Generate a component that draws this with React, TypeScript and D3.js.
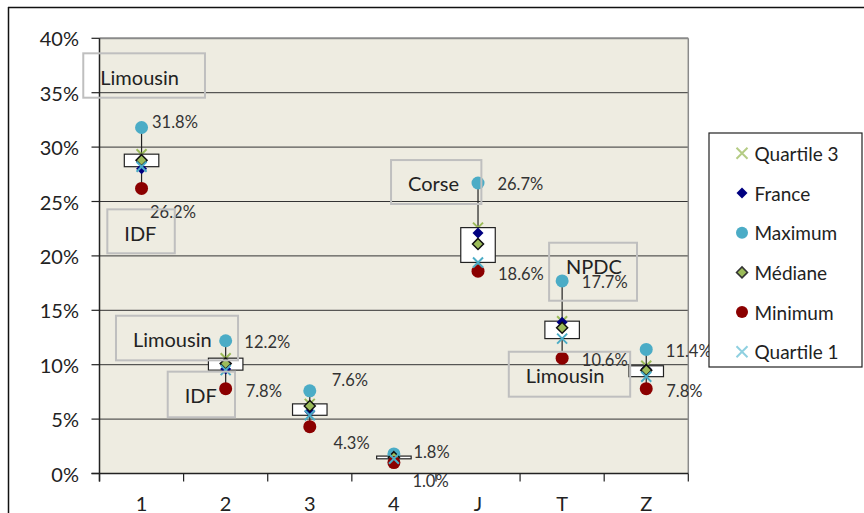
import React from "react";
import * as d3 from "d3";

const categories = ["1", "2", "3", "4", "J", "T", "Z"];
const quartile3 = [29.35, 10.6, 6.4, 1.6, 22.6, 14.0, 9.9];
const france = [28.0, 9.6, 5.7, 1.4, 22.1, 13.9, 9.6];
const maximum = [31.8, 12.2, 7.6, 1.8, 26.7, 17.7, 11.4];
const mediane = [28.8, 10.1, 6.2, 1.5, 21.1, 13.4, 9.5];
const minimum = [26.2, 7.8, 4.3, 1.0, 18.6, 10.6, 7.8];
const quartile1 = [28.2, 9.5, 5.35, 1.35, 19.4, 12.4, 8.9];
const yTicks = [0, 5, 10, 15, 20, 25, 30, 35, 40];
const legendLabels = ["Quartile 3", "France", "Maximum", "Médiane", "Minimum", "Quartile 1"];

// label nudges (px) for the max / min value labels
const maxLabelDx = [10.5, 18.7, 22, 19.5, 19.4, 19.7, 19.6];
const maxLabelDy = [-6, 1, -11, -2, 1, 1, 2];
const minLabelDx = [8.5, 20, 23.6, 18.5, 20, 19.7, 20];
const minLabelDy = [24, 2, 16, 18, 3, 2, 2];

// region text boxes: x in category-band units, y in percent
const noteLabels = ["Limousin", "IDF", "Limousin", "IDF", "Corse", "NPDC", "Limousin"];
const noteX0 = [-0.193, 0.093, 0.196, 0.811, 3.466, 5.345, 4.866];
const noteX1 = [1.254, 0.895, 1.647, 1.611, 4.54, 6.39, 6.309];
const noteYTop = [38.62, 24.28, 14.5, 9.36, 28.81, 21.21, 11.19];
const noteYBot = [34.54, 20.24, 10.4, 5.17, 24.77, 15.88, 7.06];

const W = 864;
const H = 513;
const FONT = "Lato, 'Open Sans', sans-serif";

const C_Q3 = "#9BBB59";
const C_FR = "#000080";
const C_MAX = "#4BACC6";
const C_MED = "#9BBB59";
const C_MIN = "#8B0000";
const C_Q1 = "#4BACC6";

function XMark({ x, y, color, s = 5 }: { x: number; y: number; color: string; s?: number }) {
  return (
    <path
      d={`M${x - s},${y - s}L${x + s},${y + s}M${x - s},${y + s}L${x + s},${y - s}`}
      stroke={color}
      strokeWidth={2}
      fill="none"
    />
  );
}

function Diamond({ x, y, fill, stroke, s = 5.5 }: { x: number; y: number; fill: string; stroke?: string; s?: number }) {
  return (
    <path
      d={`M${x},${y - s}L${x + s},${y}L${x},${y + s}L${x - s},${y}Z`}
      fill={fill}
      stroke={stroke || "none"}
      strokeWidth={stroke ? 1.5 : 0}
    />
  );
}

export default function App() {
  const left = 99.5;
  const right = 688.3;
  const top = 38.3;
  const bottom = 473.5;

  const x = d3.scaleBand<string>().domain(categories).range([left, right]).paddingInner(0).paddingOuter(0);
  const xu = d3.scaleLinear().domain([0, categories.length]).range([left, right]);
  const y = d3.scaleLinear().domain([0, 40]).range([bottom, top]);
  const cx = (i: number) => (x(categories[i]) as number) + x.bandwidth() / 2;
  const fmt = (v: number) => d3.format(".1f")(v) + "%";
  const boxW = 34.5;

  const boundaries = d3.range(categories.length + 1).map((k) => xu(k));

  const legendX = 709;
  const legendY = 133;
  const legendItemY = (k: number) => 153.3 + k * 39.7;

  const renderLegendMarker = (k: number, mx: number, my: number) => {
    switch (k) {
      case 0:
        return <XMark x={mx} y={my} color="#B5CC85" s={5.5} />;
      case 1:
        return <Diamond x={mx} y={my} fill={C_FR} s={5.5} />;
      case 2:
        return <circle cx={mx} cy={my} r={6} fill={C_MAX} />;
      case 3:
        return <Diamond x={mx} y={my} fill={C_MED} stroke="#333" s={5.5} />;
      case 4:
        return <circle cx={mx} cy={my} r={6} fill={C_MIN} />;
      default:
        return <XMark x={mx} y={my} color="#8FD0E0" s={5.5} />;
    }
  };

  return (
    <svg
      width={W}
      height={H}
      style={{ position: "absolute", left: 0, top: 0, background: "#fff" }}
      fontFamily={FONT}
    >
      {/* chart frame */}
      <line x1={8} y1={7.5} x2={W} y2={7.5} stroke="#111" strokeWidth={1.5} />
      <line x1={8.5} y1={7} x2={8.5} y2={H} stroke="#111" strokeWidth={1.5} />

      {/* plot area */}
      <rect x={left} y={top} width={right - left} height={bottom - top} fill="#EEECE1" />
      {yTicks.slice(1, -1).map((t) => (
        <line key={t} x1={left} x2={right} y1={y(t)} y2={y(t)} stroke="#333" strokeWidth={1} />
      ))}
      <line x1={left} x2={right} y1={top} y2={top} stroke="#8a8a8a" strokeWidth={2} />
      <line x1={right} x2={right} y1={top} y2={bottom} stroke="#8a8a8a" strokeWidth={1.5} />

      {/* axes */}
      <line x1={left} x2={left} y1={top} y2={bottom + 8} stroke="#222" strokeWidth={1.5} />
      <line x1={left - 8} x2={right} y1={bottom} y2={bottom} stroke="#222" strokeWidth={1.5} />
      {yTicks.map((t) => (
        <g key={t}>
          <line x1={left - 8} x2={left} y1={y(t)} y2={y(t)} stroke="#222" strokeWidth={1.2} />
          <text x={79} y={y(t)} textAnchor="end" dominantBaseline="central" fontSize={20} fill="#222">
            {t}%
          </text>
        </g>
      ))}
      {boundaries.map((b, k) => (
        <line key={k} x1={b} x2={b} y1={bottom} y2={bottom + 8} stroke="#222" strokeWidth={1.2} />
      ))}
      {categories.map((c, i) => (
        <text key={c} x={cx(i)} y={511} textAnchor="middle" fontSize={20} fill="#222">
          {c}
        </text>
      ))}

      {/* high-low lines */}
      {categories.map((c, i) => (
        <line key={c} x1={cx(i)} x2={cx(i)} y1={y(maximum[i])} y2={y(minimum[i])} stroke="#222" strokeWidth={1.2} />
      ))}
      {/* quartile 3 markers (partly hidden by boxes) */}
      {categories.map((c, i) => (
        <XMark key={c} x={cx(i)} y={y(quartile3[i])} color={C_Q3} />
      ))}
      {/* up-down boxes */}
      {categories.map((c, i) => (
        <rect
          key={c}
          x={cx(i) - boxW / 2}
          y={y(quartile3[i])}
          width={boxW}
          height={y(quartile1[i]) - y(quartile3[i])}
          fill="#fff"
          stroke="#222"
          strokeWidth={1.2}
        />
      ))}
      {categories.map((c, i) => (
        <g key={c}>
          <Diamond x={cx(i)} y={y(france[i])} fill={C_FR} />
          <circle cx={cx(i)} cy={y(maximum[i])} r={6.5} fill={C_MAX} />
          <Diamond x={cx(i)} y={y(mediane[i])} fill={C_MED} stroke="#111" />
          <circle cx={cx(i)} cy={y(minimum[i])} r={6.5} fill={C_MIN} />
          <XMark x={cx(i)} y={y(quartile1[i])} color={C_Q1} />
        </g>
      ))}

      {/* value labels */}
      {categories.map((c, i) => (
        <g key={c} fontSize={16.5} fill="#333">
          <text x={cx(i) + maxLabelDx[i]} y={y(maximum[i]) + maxLabelDy[i]} dominantBaseline="central">
            {fmt(maximum[i])}
          </text>
          <text x={cx(i) + minLabelDx[i]} y={y(minimum[i]) + minLabelDy[i]} dominantBaseline="central">
            {fmt(minimum[i])}
          </text>
        </g>
      ))}

      {/* region notes */}
      {noteLabels.map((lab, k) => (
        <g key={k}>
          <rect
            x={xu(noteX0[k])}
            y={y(noteYTop[k])}
            width={xu(noteX1[k]) - xu(noteX0[k])}
            height={y(noteYBot[k]) - y(noteYTop[k])}
            fill="none"
            stroke="#BFBFBF"
            strokeWidth={2}
          />
          <text
            x={xu(noteX0[k]) + 17}
            y={y(noteYTop[k]) + 23.3}
            dominantBaseline="central"
            fontSize={20}
            fill="#222"
          >
            {lab}
          </text>
        </g>
      ))}

      {/* legend */}
      <rect x={legendX} y={legendY} width={153} height={234} fill="#fff" stroke="#222" strokeWidth={1.2} />
      {legendLabels.map((lab, k) => (
        <g key={lab}>
          {renderLegendMarker(k, 742, legendItemY(k))}
          <text x={754.5} y={legendItemY(k)} dominantBaseline="central" fontSize={19} fill="#222">
            {lab}
          </text>
        </g>
      ))}
    </svg>
  );
}
